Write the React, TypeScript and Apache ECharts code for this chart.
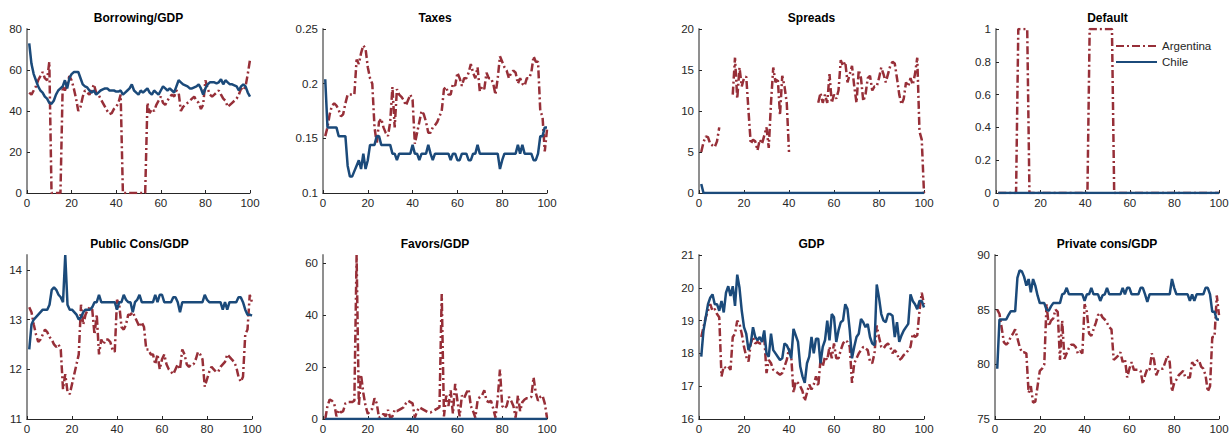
import React, { useEffect, useRef } from "react";
import * as echarts from "echarts";

// ---------- data (t = 1..100) ----------
const borrowArg = [
  49, 48, 50, 52, 55, 57, 59, 56, 55, 64,
  0, 0, 0, 0, 0, 52, 50, 53, 57, 55,
  51, 46, 40, 42, 47, 50, 49, 48, 50, 53,
  49, 48, 46, 44, 42, 40, 38.5, 39, 41, 42,
  44, 48, 0, 0, 0, 0, 0, 0, 0, 0,
  0, 0, 0, 44, 39, 41, 40, 43, 45, 47,
  44, 43, 45, 47, 48, 47, 50, 49, 40, 42,
  43, 44, 45, 46, 47, 45, 44, 41, 43, 55,
  51, 48, 47, 48, 49, 50, 48, 46, 45, 42,
  43, 44, 45, 46, 48, 51, 50, 52, 58, 65,
];
const borrowChi = [
  73, 63, 58, 55, 52, 50, 49, 47, 46, 44,
  43.5, 45, 48, 50, 51, 52, 55, 51, 56, 58,
  59, 59, 59, 56, 53, 52, 51.5, 50, 49, 50,
  48, 49, 50, 50.5, 51, 51, 50, 50, 50, 49.5,
  49.5, 50, 48, 49, 50, 51, 53, 50, 49, 48,
  50, 49, 50, 51, 49, 48, 50, 49, 48, 50,
  52, 51, 50, 51, 50, 49, 52, 55, 54, 53,
  52.5, 52, 51, 51, 51.5, 52, 53, 51, 48, 51,
  53, 54, 54, 54, 53.5, 54, 55.5, 53, 55, 54,
  53, 53, 52.5, 52, 50, 52, 53, 52, 49, 47,
];
const taxArg = [
  0.152, 0.16, 0.172, 0.18, 0.182, 0.18, 0.176, 0.17, 0.172, 0.182,
  0.19, 0.19, 0.19, 0.19, 0.222, 0.218, 0.228, 0.235, 0.232, 0.215,
  0.205, 0.2, 0.16, 0.145, 0.165, 0.168, 0.16, 0.155, 0.152, 0.165,
  0.197, 0.16, 0.195, 0.19, 0.188, 0.185, 0.18, 0.185, 0.19, 0.185,
  0.145, 0.155, 0.165, 0.175, 0.172, 0.165, 0.155, 0.155, 0.16, 0.162,
  0.165, 0.17, 0.175, 0.195, 0.197, 0.19, 0.19, 0.2, 0.198, 0.21,
  0.205, 0.198, 0.205, 0.205, 0.21, 0.218, 0.21, 0.205, 0.215, 0.193,
  0.197, 0.195, 0.21, 0.205, 0.205, 0.2, 0.19, 0.205, 0.225, 0.22,
  0.215, 0.212, 0.205, 0.21, 0.212, 0.21, 0.2, 0.205, 0.2, 0.198,
  0.205, 0.205, 0.21, 0.225, 0.22, 0.22, 0.175, 0.17, 0.138, 0.158,
];
const taxChi = [
  0.204, 0.16, 0.16, 0.16, 0.16, 0.16, 0.152, 0.152, 0.152, 0.152,
  0.125, 0.115, 0.115, 0.12, 0.125, 0.13, 0.122, 0.136, 0.122, 0.13,
  0.144, 0.144, 0.144, 0.152, 0.152, 0.144, 0.144, 0.144, 0.144, 0.144,
  0.136, 0.136, 0.13, 0.136, 0.136, 0.136, 0.136, 0.136, 0.136, 0.144,
  0.136, 0.136, 0.13, 0.136, 0.136, 0.136, 0.144, 0.136, 0.13, 0.136,
  0.136, 0.136, 0.136, 0.136, 0.136, 0.136, 0.13, 0.136, 0.136, 0.13,
  0.13, 0.136, 0.136, 0.136, 0.13, 0.13, 0.136, 0.136, 0.144, 0.136,
  0.136, 0.136, 0.136, 0.136, 0.136, 0.136, 0.136, 0.136, 0.122, 0.13,
  0.136, 0.136, 0.136, 0.136, 0.136, 0.136, 0.144, 0.136, 0.144, 0.136,
  0.136, 0.136, 0.136, 0.13, 0.13, 0.136, 0.152, 0.152, 0.16, 0.16,
];
const spreadArg = [
  5, 6.2, 6.9, 6.8, 6, 5.8, 5.6, 6.3, 8, null,
  null, null, null, null, 12, 16.5, 11.5, 15.3, 13, 14,
  14.2, 10, 6, 6.5, 6.3, 5.2, 6.5, 6, 7, 8,
  5.5, 11, 15.3, 13.5, 14, 9.5, 14.3, 13, 11, 5,
  null, null, null, null, null, null, null, null, null, null,
  null, null, 11, 12.2, 11, 12, 11, 14.5, 11, 12,
  11.5, 12.5, 16.2, 15.5, 16, 13.5, 14.5, 15.5, 13, 11,
  15, 14, 11.2, 12, 14, 14.3, 12.5, 13, 13, 14,
  15.3, 14.5, 13.5, 14.5, 15.5, 16, 15.8, 14, 12, 10.8,
  11.5, 13.5, 13, 14, 13.2, 14.5, 16.5, 7.5, 6.5, 0,
];
const spreadChi = [
  1.1, 0, 0, 0, 0, 0, 0, 0, 0, 0,
  0, 0, 0, 0, 0, 0, 0, 0, 0, 0,
  0, 0, 0, 0, 0, 0, 0, 0, 0, 0,
  0, 0, 0, 0, 0, 0, 0, 0, 0, 0,
  0, 0, 0, 0, 0, 0, 0, 0, 0, 0,
  0, 0, 0, 0, 0, 0, 0, 0, 0, 0,
  0, 0, 0, 0, 0, 0, 0, 0, 0, 0,
  0, 0, 0, 0, 0, 0, 0, 0, 0, 0,
  0, 0, 0, 0, 0, 0, 0, 0, 0, 0,
  0, 0, 0, 0, 0, 0, 0, 0, 0, 0,
];
const defaultArg = [
  0, 0, 0, 0, 0, 0, 0, 0, 0, 1,
  1, 1, 1, 1, 0, 0, 0, 0, 0, 0,
  0, 0, 0, 0, 0, 0, 0, 0, 0, 0,
  0, 0, 0, 0, 0, 0, 0, 0, 0, 0,
  0, 1, 1, 1, 1, 1, 1, 1, 1, 1,
  1, 1, 0, 0, 0, 0, 0, 0, 0, 0,
  0, 0, 0, 0, 0, 0, 0, 0, 0, 0,
  0, 0, 0, 0, 0, 0, 0, 0, 0, 0,
  0, 0, 0, 0, 0, 0, 0, 0, 0, 0,
  0, 0, 0, 0, 0, 0, 0, 0, 0, 0,
];
const defaultChi = [
  0, 0, 0, 0, 0, 0, 0, 0, 0, 0,
  0, 0, 0, 0, 0, 0, 0, 0, 0, 0,
  0, 0, 0, 0, 0, 0, 0, 0, 0, 0,
  0, 0, 0, 0, 0, 0, 0, 0, 0, 0,
  0, 0, 0, 0, 0, 0, 0, 0, 0, 0,
  0, 0, 0, 0, 0, 0, 0, 0, 0, 0,
  0, 0, 0, 0, 0, 0, 0, 0, 0, 0,
  0, 0, 0, 0, 0, 0, 0, 0, 0, 0,
  0, 0, 0, 0, 0, 0, 0, 0, 0, 0,
  0, 0, 0, 0, 0, 0, 0, 0, 0, 0,
];
const pubArg = [
  13.25, 13.15, 12.9, 12.7, 12.55, 12.6, 12.7, 12.8, 12.75, 12.65,
  12.6, 12.5, 12.45, 12.5, 12.4, 11.6, 11.9, 11.55, 11.5, 11.7,
  11.9, 12.1, 12.3, 13.3, 12.9, 13.1, 13.2, 13.25, 13.2, 12.7,
  13.1, 12.3, 12.6, 12.5, 12.6, 12.6, 12.55, 12.4, 12.35, 13.4,
  13.3, 12.85, 12.8, 12.9, 13.1, 13.1, 13.15, 13.05, 12.95, 12.85,
  12.95, 12.85, 12.4, 12.4, 12.3, 12.3, 12.1, 12.3, 12.0, 12.2,
  12.3, 12.1, 12.0, 11.95, 11.9, 12.0, 12.1, 12.0, 12.4, 12.3,
  12.1, 12.05, 12.1, 12.1, 12.2, 12.35, 12.3, 12.2, 11.65, 11.8,
  11.95, 12.05, 12.0, 11.95, 11.95, 12.05, 12.1, 12.15, 12.3, 12.25,
  12.2, 12.15, 12.05, 11.85, 11.75, 11.85, 12.7, 12.8, 13.5, 13.35,
];
const pubChi = [
  12.4, 12.9, 13.0, 13.05, 13.1, 13.15, 13.2, 13.2, 13.2, 13.3,
  13.6, 13.65, 13.6, 13.5, 13.45, 13.35, 14.3, 13.3, 13.2, 13.2,
  13.15, 13.1, 13.0, 13.05, 13.15, 13.2, 13.2, 13.2, 13.25, 13.35,
  13.35, 13.5, 13.35, 13.35, 13.35, 13.35, 13.35, 13.35, 13.35, 13.2,
  13.35, 13.35, 13.5, 13.4, 13.35, 13.35, 13.15, 13.35, 13.4, 13.5,
  13.35, 13.35, 13.35, 13.35, 13.35, 13.35, 13.5, 13.35, 13.5, 13.5,
  13.35, 13.35, 13.35, 13.35, 13.45, 13.45, 13.35, 13.15, 13.35, 13.35,
  13.35, 13.35, 13.35, 13.35, 13.35, 13.35, 13.35, 13.35, 13.5, 13.4,
  13.35, 13.35, 13.35, 13.35, 13.35, 13.35, 13.2, 13.35, 13.2, 13.35,
  13.35, 13.35, 13.35, 13.45, 13.45, 13.35, 13.2, 13.1, 13.1, 13.08,
];
const favArg = [
  0, 5, 7.5, 7, 6, 1, 3.5, 2.5, 3, 6,
  6.5, 6.5, 6.5, 7, 63, 5, 17, 10, 5, 2,
  3, 4, 8, 6, 0.5, 1, 2, 1, 3.5, 0.5,
  1, 3.5, 3, 3.5, 4, 4.5, 6, 7, 6.5, 6,
  0.5, 3, 4.5, 4, 3.5, 3, 2.5, 2.5, 3, 3.5,
  4, 4.5, 48, 1, 9, 5, 11, 2, 13.5, 7,
  1, 9, 8, 10, 11.5, 5, 3, 0.5, 7, 8.5,
  9, 11, 7, 6.5, 7, 4, 0.5, 8, 19, 5,
  4, 5, 8.5, 7, 5, 0.5, 9, 3, 6.5, 7.5,
  8, 8, 8.5, 16, 10, 7, 8.5, 9, 6, 0.5,
];
const favChi = [
  0, 0, 0, 0, 0, 0, 0, 0, 0, 0,
  0, 0, 0, 0, 0, 0, 0, 0, 0, 0,
  0, 0, 0, 0, 0, 0, 0, 0, 0, 0,
  0, 0, 0, 0, 0, 0, 0, 0, 0, 0,
  0, 0, 0, 0, 0, 0, 0, 0, 0, 0,
  0, 0, 0, 0, 0, 0, 0, 0, 0, 0,
  0, 0, 0, 0, 0, 0, 0, 0, 0, 0,
  0, 0, 0, 0, 0, 0, 0, 0, 0, 0,
  0, 0, 0, 0, 0, 0, 0, 0, 0, 0,
  0, 0, 0, 0, 0, 0, 0, 0, 0, 0,
];
const gdpArg = [
  18.5, 18.8, 19.1, 19.3, 19.5, 19.3, 19.35, 19.2, 19.1, 17.3,
  17.6, 17.55, 17.6, 17.5, 18.5, 18.6, 19.0, 18.9, 18.6, 18.2,
  17.9, 17.75, 18.3, 18.5, 18.3, 18.35, 18.3, 18.3, 18.5, 17.4,
  17.8, 17.7, 17.5, 17.45, 17.4, 17.35, 17.4, 17.6, 17.8, 18.15,
  17.9, 16.8, 17.15, 17.1, 17.0, 16.85, 16.55, 16.8, 17.05, 16.9,
  17.05, 17.3, 17.0, 17.8, 17.6, 17.9, 17.8, 18.2, 17.85, 18.3,
  17.85, 17.85, 18.1, 18.3, 18.4, 18.35, 18.2, 17.1, 17.7, 17.85,
  18.0, 18.1, 18.2, 18.15, 18.1, 17.75, 17.7, 18.0, 18.85, 18.5,
  18.2, 18.15, 18.25, 18.3, 18.2, 18.0, 18.1, 18.0, 17.8, 17.85,
  17.95, 18.0, 18.1, 18.2, 18.6, 18.5, 18.55, 19.3, 19.85, 19.5,
];
const gdpChi = [
  17.9, 18.7, 19.1, 19.5, 19.7, 19.8, 19.5, 19.5, 19.3, 19.6,
  19.25, 19.85, 20.05, 19.75, 20.05, 19.45, 20.4, 20.0, 19.3, 18.8,
  18.6, 18.1, 18.3, 18.8, 18.5, 18.4, 18.5, 18.35, 18.7, 18.0,
  17.9, 18.6, 18.1, 18.0, 17.9, 17.8, 17.85, 18.3, 18.25, 18.1,
  17.85, 18.75, 18.55, 18.35, 17.6, 17.3, 17.1, 17.7, 17.9, 18.5,
  18.0, 18.45, 18.45, 17.7, 18.2, 18.4, 19.0, 18.4, 19.2, 19.1,
  18.35, 18.7, 18.95, 19.0, 19.5, 19.35, 18.7, 17.85, 18.2, 18.5,
  18.6, 19.05, 18.95, 18.8, 18.9, 18.5, 18.3, 18.25, 20.1, 19.7,
  19.2, 19.0, 18.95, 19.2, 19.2, 19.15, 18.5, 18.95, 18.35, 18.55,
  18.7, 18.8, 18.9, 19.8, 19.6, 19.5, 19.35, 19.6, 19.6, 19.4,
];
const privArg = [
  85.0, 84.6, 83.3, 82.0, 81.8, 82.0, 82.5, 82.8, 83.2, 82.4,
  81.6, 81.1, 81.1, 81.0, 77.4, 78.0, 76.5, 76.6, 78.0, 79.4,
  79.6, 80.0, 85.5, 83.5, 84.0, 84.2, 85.0, 84.8, 80.4, 84.0,
  80.5, 81.0, 81.5, 81.8, 81.8, 81.6, 81.0, 81.2, 81.0, 85.5,
  84.8, 82.8, 82.6, 83.2, 83.8, 84.5, 84.7, 84.3, 84.1, 83.8,
  83.4, 83.2, 80.4, 80.6, 80.8, 81.1, 80.2, 80.5, 78.8, 79.6,
  80.2, 79.5, 79.5, 79.5, 79.4, 78.2, 79.0, 79.6, 79.5, 81.0,
  80.4, 79.0, 79.5, 79.6, 79.6, 80.2, 80.8, 80.2, 77.5, 78.3,
  78.6, 79.0, 79.2, 79.4, 78.8, 78.8, 78.8, 80.2, 79.9, 80.3,
  80.4, 79.8, 79.6, 79.0, 77.5, 78.0, 82.5, 82.5, 86.3, 84.5,
];
const privChi = [
  79.6, 84.1, 84.1, 84.1, 84.1, 84.5, 84.85, 84.85, 84.85, 87.9,
  88.6, 88.5, 88.0, 87.2, 87.8, 86.6, 87.8, 87.2, 86.3, 85.6,
  85.6, 85.6, 85.0, 84.9, 85.3, 85.6, 85.6, 85.6, 85.6, 86.4,
  86.5, 87.0, 86.4, 86.4, 86.4, 86.4, 86.4, 86.4, 86.4, 85.8,
  86.4, 86.4, 87.0, 86.4, 86.4, 86.4, 85.8, 86.3, 86.4, 87.0,
  86.4, 86.4, 86.4, 86.4, 86.4, 86.4, 87.0, 86.4, 87.0, 87.0,
  86.4, 86.4, 86.4, 86.4, 87.0, 87.0, 86.4, 85.7, 86.4, 86.4,
  86.4, 86.4, 86.4, 86.4, 86.4, 86.4, 86.4, 86.4, 87.8, 87.0,
  86.4, 86.4, 86.4, 86.4, 86.4, 86.4, 85.8, 86.4, 85.8, 86.4,
  86.4, 86.4, 86.4, 87.0, 87.0, 86.4, 84.8, 84.8, 84.1, 84.1,
];

const titles = [
  "Borrowing/GDP", "Taxes", "Spreads", "Default",
  "Public Cons/GDP", "Favors/GDP", "GDP", "Private cons/GDP",
];
const seriesNames = ["Argentina", "Chile"];
const argSeries = [borrowArg, taxArg, spreadArg, defaultArg, pubArg, favArg, gdpArg, privArg];
const chiSeries = [borrowChi, taxChi, spreadChi, defaultChi, pubChi, favChi, gdpChi, privChi];
const yMins = [0, 0.1, 0, 0, 11, 0, 16, 75];
const yMaxs = [80, 0.25, 20, 1, 14.3, 63, 21, 90];
const yIntervals = [20, 0.05, 5, 0.2, 1, 20, 1, 5];
const xTicks = [0, 20, 40, 60, 80, 100];

// ---------- layout ----------
const panelLefts = [27, 323, 699, 996, 27, 323, 699, 995];
const panelWidths = [223, 224, 225, 223, 225, 224, 225, 224];
const rowTops = [29, 255];
const panelHeight = 164;

const RED = "#972f38";
const BLUE = "#1b4a7a";
const FONT = "Liberation Sans, Arial, Helvetica, sans-serif";

export default function App() {
  const ref = useRef<HTMLDivElement>(null);

  useEffect(() => {
    if (!ref.current) return;
    const chart = echarts.init(ref.current, undefined, { renderer: "svg" });

    const grids: any[] = [];
    const xAxes: any[] = [];
    const yAxes: any[] = [];
    const series: any[] = [];
    const graphics: any[] = [];

    for (let i = 0; i < 8; i++) {
      const top = rowTops[i < 4 ? 0 : 1];
      grids.push({
        left: panelLefts[i],
        top,
        width: panelWidths[i],
        height: panelHeight,
        containLabel: false,
      });
      xAxes.push({
        type: "value",
        gridIndex: i,
        min: xTicks[0],
        max: xTicks[xTicks.length - 1],
        interval: 20,
        axisLine: { show: true, onZero: false, lineStyle: { color: "#262626", width: 1 } },
        axisTick: { show: true, inside: true, length: 3, lineStyle: { color: "#262626" } },
        splitLine: { show: false },
        axisLabel: { color: "#262626", fontSize: 11.5, fontFamily: FONT, margin: 4 },
      });
      yAxes.push({
        type: "value",
        gridIndex: i,
        min: yMins[i],
        max: yMaxs[i],
        interval: yIntervals[i],
        axisLine: { show: true, onZero: false, lineStyle: { color: "#8f8f8f", width: 2 } },
        axisTick: { show: true, inside: true, length: 3, lineStyle: { color: "#262626" } },
        splitLine: { show: false },
        axisLabel: {
          color: "#262626",
          fontSize: 11.5,
          fontFamily: FONT,
          margin: 5,
          showMaxLabel: i === 4 || i === 5 ? false : true,
        },
      });
      series.push({
        name: seriesNames[0],
        type: "line",
        xAxisIndex: i,
        yAxisIndex: i,
        data: argSeries[i].map((v, k) => [k + 1, v]),
        showSymbol: false,
        symbol: "none",
        connectNulls: false,
        lineStyle: { color: RED, width: 2.5, type: [8, 3, 2, 3] },
        itemStyle: { color: RED },
        z: 2,
      });
      series.push({
        name: seriesNames[1],
        type: "line",
        xAxisIndex: i,
        yAxisIndex: i,
        data: chiSeries[i].map((v, k) => [k + 1, v]),
        showSymbol: false,
        symbol: "none",
        lineStyle: { color: BLUE, width: 2.5 },
        itemStyle: { color: BLUE },
        z: 3,
      });
      graphics.push({
        type: "text",
        x: panelLefts[i] + panelWidths[i] / 2,
        y: i < 4 ? 18 : 244,
        style: {
          text: titles[i],
          fill: "#000",
          font: `bold 12px ${FONT}`,
          textAlign: "center",
          textVerticalAlign: "middle",
        },
      });
    }

    chart.setOption({
      animation: false,
      backgroundColor: "#ffffff",
      grid: grids,
      xAxis: xAxes,
      yAxis: yAxes,
      series,
      graphic: graphics,
      legend: {
        data: seriesNames,
        orient: "vertical",
        left: 1115,
        top: 40,
        padding: 0,
        itemWidth: 41,
        itemHeight: 12,
        itemGap: 4,
        itemStyle: { opacity: 0 },
        textStyle: { color: "#262626", fontSize: 11.5, fontFamily: FONT },
        backgroundColor: "transparent",
        selectedMode: false,
      },
    });

    return () => chart.dispose();
  }, []);

  return (
    <div
      ref={ref}
      style={{ position: "fixed", left: 0, top: 0, width: 1232, height: 436, background: "#fff" }}
    />
  );
}
